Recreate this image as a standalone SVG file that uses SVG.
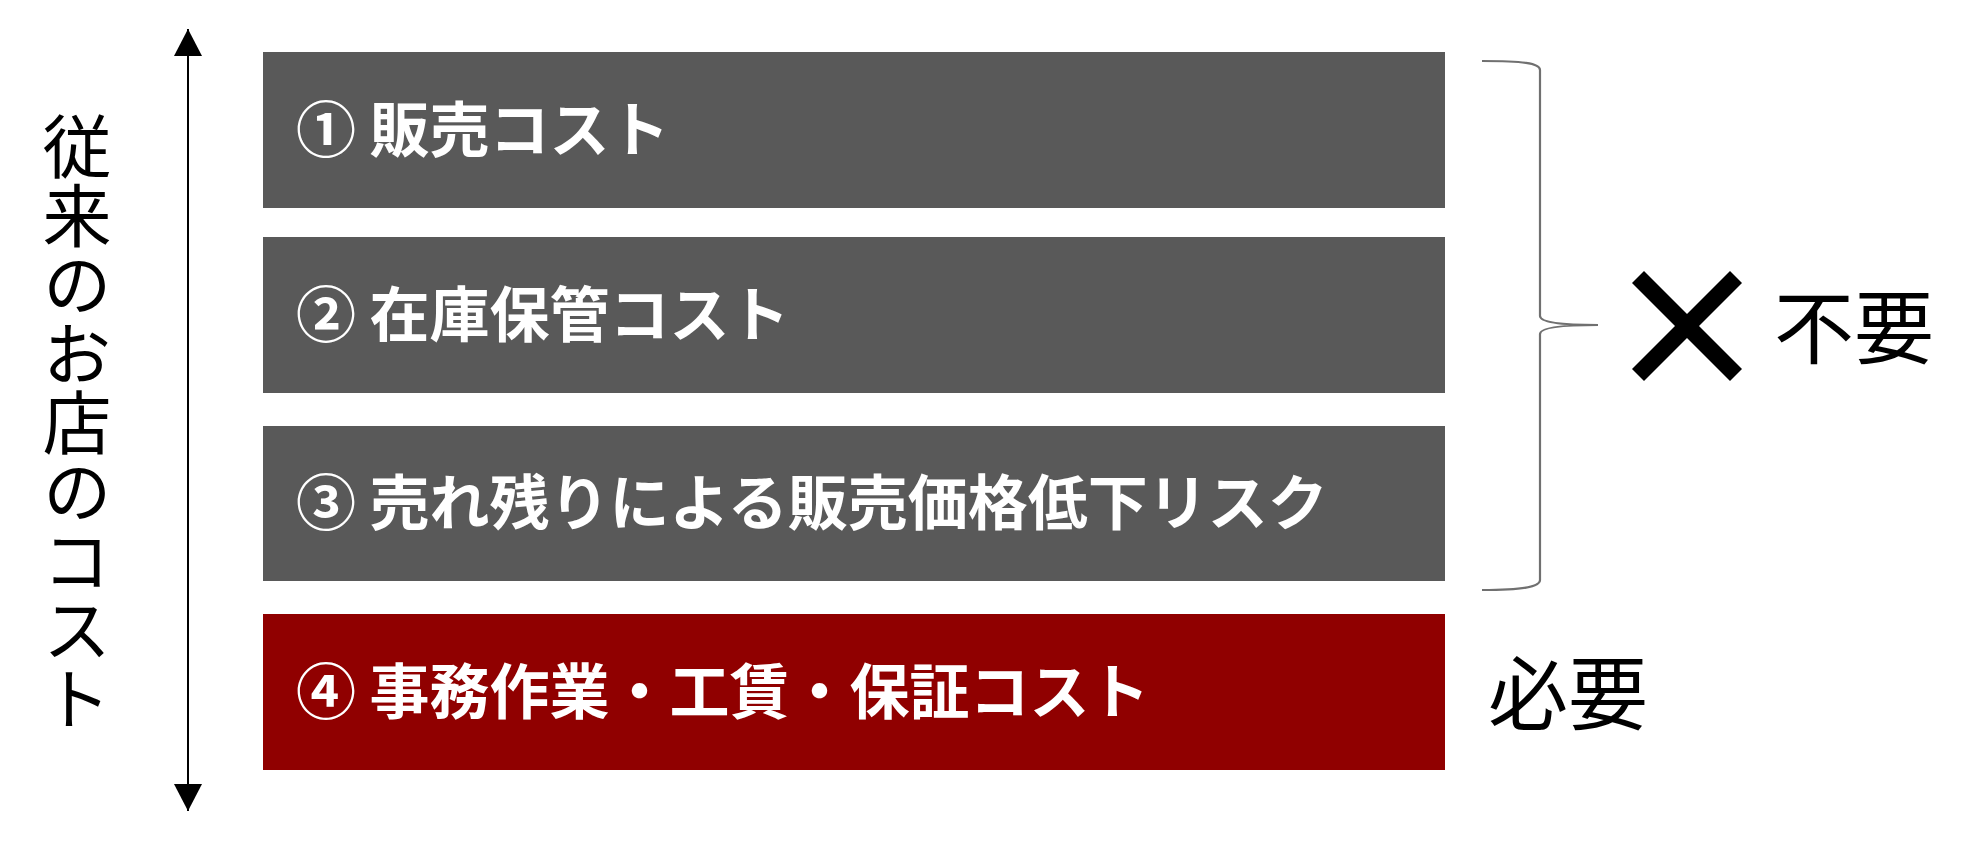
<svg xmlns="http://www.w3.org/2000/svg" width="1988" height="841" viewBox="0 0 1988 841">
<defs>
<style>
.box-gray{fill:#595959}
.box-red{fill:#900000}
.lbl{font-family:"Noto Sans CJK JP","Noto Sans",sans-serif;font-weight:700;font-size:60px;fill:#ffffff}
.side{font-family:"Noto Sans CJK JP","Noto Sans",sans-serif;font-weight:400;fill:#000000}
.brace{fill:none;stroke:#707070;stroke-width:2.2}
</style>
<marker id="tri" markerUnits="userSpaceOnUse" markerWidth="28" markerHeight="28" viewBox="0 0 28 28" refX="27" refY="14" orient="auto-start-reverse">
<path d="M0,0 L27,14 L0,28 z" fill="#000000"/>
</marker>
</defs>
<rect width="1988" height="841" fill="#ffffff"/>
<g id="connectors">
<line x1="188" y1="29" x2="188" y2="811" stroke="#000000" stroke-width="2" marker-start="url(#tri)" marker-end="url(#tri)"/>
<path class="brace" d="M1482,61 C1522,61 1540,63 1540,70 L1540,316 C1540,322 1560,325 1598,325 C1560,325 1540,328 1540,334 L1540,580 C1540,587 1522,590 1482,590"/>
</g>
<g id="axis-label">
<text class="side" x="77" y="112" font-size="69" style="writing-mode:vertical-rl">従来のお店のコスト</text>
</g>
<g id="node1">
<rect class="box-gray" x="263" y="52" width="1182" height="156"/>
<text class="lbl" x="296" y="152">① 販売コスト</text>
</g>
<g id="node2">
<rect class="box-gray" x="263" y="237" width="1182" height="156"/>
<text class="lbl" x="296" y="337">② 在庫保管コスト</text>
</g>
<g id="node3">
<rect class="box-gray" x="263" y="426" width="1182" height="155"/>
<text class="lbl" x="296" y="525">③ 売れ残りによる販売価格低下リスク</text>
</g>
<g id="node4">
<rect class="box-red" x="263" y="614" width="1182" height="156"/>
<text class="lbl" x="296" y="714">④ 事務作業・工賃・保証コスト</text>
</g>
<g id="unneeded">
<line x1="1638" y1="277" x2="1736" y2="375" stroke="#000000" stroke-width="17"/>
<line x1="1736" y1="277" x2="1638" y2="375" stroke="#000000" stroke-width="17"/>
<text class="side" x="1774" y="357" font-size="80">不要</text>
</g>
<g id="needed">
<text class="side" x="1488" y="723" font-size="80">必要</text>
</g>
</svg>
